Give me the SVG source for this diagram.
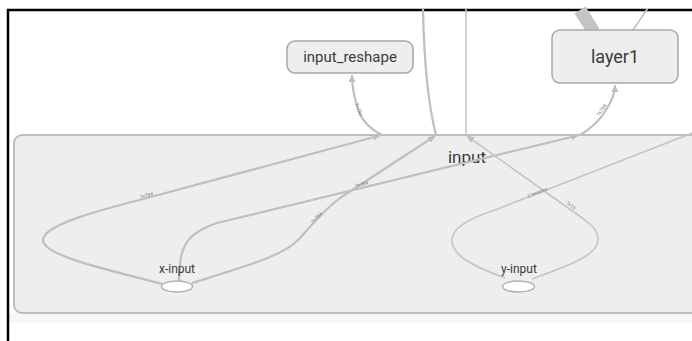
<svg xmlns="http://www.w3.org/2000/svg" width="692" height="341" viewBox="0 0 692 341">
<defs>
<style>
.grp{fill:#eeeeee;stroke:#bdbdbd;stroke-width:2}
.node{fill:#eeeeee;stroke:#a8a8a8;stroke-width:1.5}
.ell{fill:#ffffff;stroke:#b0b0b0;stroke-width:1.5}
.lbl{font-family:Roboto,"Liberation Sans",sans-serif;fill:#3a3a3a;text-anchor:middle}
.e{fill:none;stroke:#bfbfbf;stroke-width:2.2}
.et{fill:none;stroke:#c4c4c4;stroke-width:1.6}
.thick{fill:none;stroke:#c4c4c4;stroke-width:13}
.el{font-family:Roboto,"Liberation Sans",sans-serif;font-size:5px;fill:#777;text-anchor:middle}
</style>
<marker id="arr" markerWidth="8" markerHeight="8" refX="7" refY="4" orient="auto" markerUnits="userSpaceOnUse">
<path d="M0,0.5 L7,4 L0,7.5 z" fill="#bdbdbd"/>
</marker>
</defs>
<rect width="692" height="341" fill="#ffffff"/>
<rect x="9" y="313" width="683" height="10" fill="#f7f7f7"/>
<path d="M8,341 V10 H692" fill="none" stroke="#000" stroke-width="2.5"/>
<g id="input">
<rect class="grp" x="14" y="135" width="700" height="178" rx="8"/>
<text class="lbl" x="467" y="163" font-size="17">input</text>
</g>
<g id="edges">
<path class="thick" d="M580,10 L594,32"/>
<path class="et" d="M633,30 L648,8"/>
<path class="e" d="M423,9 C424,60 427,100 436,135"/>
<path class="et" d="M466,9 L466,135"/>
<path class="e" d="M382,135 C368,128 360,118 357,106 C354,96 352,88 352,75" marker-end="url(#arr)"/>
<path class="e" d="M580,135 C592,128 600,120 606,110 C612,100 615,94 615,85" marker-end="url(#arr)"/>
<path class="e" d="M163,284 C100,268 43,255 43,240 C43,225 100,210 147,198 L380,135.5" marker-end="url(#arr)"/>
<path class="e" d="M179,281 C180,250 182,235 217,223 L578,135.5" marker-end="url(#arr)"/>
<path class="e" d="M192,283 C250,265 282,256 298,240 C310,228 318,215 340,198 L435,136" marker-end="url(#arr)"/>
<path class="et" d="M505,278 C470,265 452,255 452,240 C452,228 470,218 495,210 L700,130"/>
<path class="et" d="M532,279 C570,265 598,255 598,240 C598,230 592,226 585,220 L467,136" marker-end="url(#arr)"/>
<text class="el" transform="translate(357,110) rotate(70)">?×784</text>
<text class="el" transform="translate(603,111) rotate(-55)">?×784</text>
<text class="el" transform="translate(147,197) rotate(-15)">?×784</text>
<text class="el" transform="translate(362,186) rotate(-13)">?×784</text>
<text class="el" transform="translate(318,219) rotate(-45)">?×784</text>
<text class="el" transform="translate(538,194) rotate(-21)">2 tensors</text>
<text class="el" transform="translate(570,207) rotate(36)">?×10</text>
</g>
<g id="input_reshape">
<rect class="node" x="287" y="41" width="126" height="32" rx="8"/>
<text class="lbl" x="350" y="62" font-size="15">input_reshape</text>
</g>
<g id="layer1">
<rect class="node" x="552" y="30" width="126" height="53" rx="8"/>
<text class="lbl" x="615" y="63" font-size="18">layer1</text>
</g>
<g id="x-input">
<ellipse class="ell" cx="177" cy="286.5" rx="15.5" ry="5.5"/>
<text class="lbl" x="177" y="273" font-size="12">x-input</text>
</g>
<g id="y-input">
<ellipse class="ell" cx="518.5" cy="286.5" rx="16" ry="5.5"/>
<text class="lbl" x="519" y="273" font-size="12">y-input</text>
</g>
</svg>
